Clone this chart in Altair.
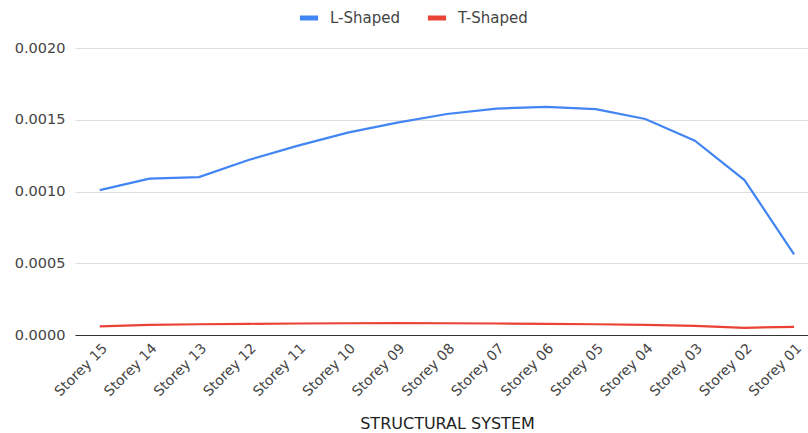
import altair as alt
import pandas as pd

storeys = ["Storey 15", "Storey 14", "Storey 13", "Storey 12", "Storey 11",
           "Storey 10", "Storey 09", "Storey 08", "Storey 07", "Storey 06",
           "Storey 05", "Storey 04", "Storey 03", "Storey 02", "Storey 01"]
l_shaped = [0.00101, 0.00109, 0.00110, 0.00122, 0.00132, 0.00141, 0.00148,
            0.00154, 0.001578, 0.00159, 0.001574, 0.001505, 0.001354,
            0.00108, 0.000562]
t_shaped = [0.000060, 0.000070, 0.000075, 0.000078, 0.000080, 0.000082,
            0.000083, 0.000082, 0.000080, 0.000078, 0.000075, 0.000070,
            0.000063, 0.000050, 0.000057]
series = ["L-Shaped", "T-Shaped"]
colors = ["#4285F4", "#EA4335"]

rows = []
for i, s in enumerate(storeys):
    rows.append({"storey": s, "series": series[0], "value": l_shaped[i], "order": i})
    rows.append({"storey": s, "series": series[1], "value": t_shaped[i], "order": i})
df = pd.DataFrame(rows)

font = "DejaVu Sans"

chart = alt.Chart(df).mark_line(strokeWidth=2.2).encode(
    x=alt.X("storey:N", sort=storeys,
            scale=alt.Scale(type="point", padding=0.39, align=0.64),
            axis=alt.Axis(title="STRUCTURAL SYSTEM", labelAngle=-45,
                          labelAlign="right", labelBaseline="top",
                          labelFontSize=14, labelColor="#444", labelFont=font,
                          labelPadding=6, ticks=False, domainColor="#333",
                          domainWidth=1, grid=False,
                          titleFont=font, titleFontSize=16,
                          titleFontWeight="normal", titleColor="#222",
                          titleX=372, titleAlign="center",
                          titlePadding=17)),
    y=alt.Y("value:Q", scale=alt.Scale(domain=[0, 0.002], nice=False),
            axis=alt.Axis(title=None, format=".4f", values=[0, 0.0005, 0.001, 0.0015, 0.002],
                          labelFontSize=14.5, labelColor="#444", labelFont=font,
                          labelPadding=10, ticks=False, domain=False,
                          gridColor="#dddddd", gridWidth=1)),
    color=alt.Color("series:N", scale=alt.Scale(domain=series, range=colors),
                    legend=alt.Legend(title=None, orient="none", direction="horizontal",
                                      legendX=222, legendY=-42,
                                      symbolType="stroke", symbolStrokeWidth=5,
                                      symbolSize=330, labelFont=font,
                                      labelFontSize=15, labelColor="#444",
                                      columnPadding=17, labelOffset=9)),
    order="order:Q",
).properties(
    width=733, height=287,
    background="white",
    padding={"left": 75, "top": 48, "right": 0, "bottom": 98},
    autosize=alt.AutoSizeParams(type="none"),
).configure_view(stroke=None)

chart.save("out.html", embed_options={"renderer": "svg", "actions": False})
